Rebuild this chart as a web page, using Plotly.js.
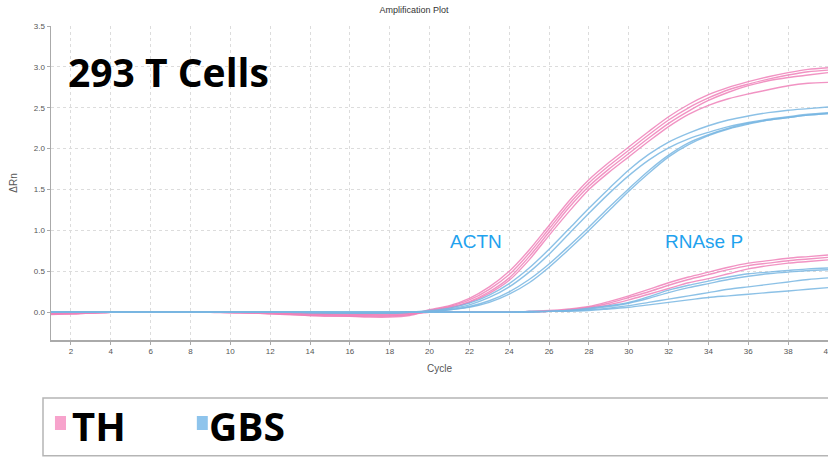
<!DOCTYPE html>
<html>
<head>
<meta charset="utf-8">
<script src="https://cdn.plot.ly/plotly-3.0.1.min.js"></script>
<style>html,body{margin:0;padding:0;background:#fff;}#chart{width:828px;height:457px;}</style>
</head>
<body>
<div id="chart"></div>
<script>
var cycles = [1,2,3,4,5,6,7,8,9,10,11,12,13,14,15,16,17,18,19,20,21,22,23,24,25,26,27,28,29,30,31,32,33,34,35,36,37,38,39,40];
var xTicks = [2,4,6,8,10,12,14,16,18,20,22,24,26,28,30,32,34,36,38,40];
var yTicks = [0,0.5,1,1.5,2,2.5,3,3.5];
var yTickLabels = ["0.0","0.5","1.0","1.5","2.0","2.5","3.0","3.5"];

// ACTN, TH (pink)
var actnTH1 = [-0.02,-0.02,-0.01,0,0,0,0,0,0,0,-0.01,-0.02,-0.03,-0.04,-0.05,-0.05,-0.05,-0.05,-0.03,0.03,0.08,0.17,0.31,0.50,0.76,1.06,1.36,1.62,1.83,2.02,2.21,2.39,2.54,2.66,2.75,2.82,2.88,2.93,2.97,2.99];
var actnTH2 = [-0.03,-0.02,-0.01,0,0,0,0,0,0,-0.01,-0.01,-0.02,-0.03,-0.04,-0.04,-0.05,-0.06,-0.06,-0.04,0.02,0.07,0.15,0.28,0.46,0.72,1.02,1.32,1.58,1.79,1.98,2.17,2.35,2.50,2.62,2.72,2.79,2.85,2.90,2.94,2.96];
var actnTH3 = [-0.02,-0.01,-0.01,0,0,0,0,0,0,0,0,-0.01,-0.02,-0.02,-0.03,-0.03,-0.03,-0.03,-0.02,0.02,0.06,0.13,0.25,0.42,0.68,0.98,1.28,1.54,1.75,1.94,2.13,2.31,2.46,2.59,2.69,2.77,2.83,2.87,2.90,2.93];
var actnTH4 = [-0.02,-0.02,-0.01,0,0,0,0,0,0,0,-0.01,-0.01,-0.02,-0.03,-0.03,-0.04,-0.04,-0.04,-0.03,0.01,0.05,0.12,0.23,0.39,0.64,0.94,1.23,1.50,1.71,1.90,2.09,2.27,2.42,2.53,2.61,2.67,2.72,2.77,2.80,2.81];

// ACTN, GBS (blue)
var actnGBS1 = [0,0,0,0,0,0,0,0,0,0,0,0,0,0,-0.01,-0.01,-0.01,-0.01,0,0.02,0.05,0.11,0.21,0.35,0.54,0.77,1.02,1.27,1.51,1.74,1.93,2.08,2.19,2.28,2.35,2.40,2.44,2.47,2.49,2.51];
var actnGBS2 = [0,0,0,0,0,0,0,0,0,0,0,0,0,-0.01,-0.01,-0.01,-0.01,-0.01,0,0.01,0.04,0.09,0.18,0.31,0.49,0.71,0.96,1.21,1.45,1.67,1.86,2.01,2.12,2.20,2.27,2.32,2.36,2.39,2.42,2.44];
var actnGBS3 = [0,0,0,0,0,0,0,0,0,0,0,0,0,0,0,-0.01,-0.01,-0.01,0,0.01,0.03,0.07,0.14,0.25,0.40,0.59,0.81,1.04,1.28,1.51,1.73,1.92,2.07,2.17,2.25,2.31,2.35,2.38,2.41,2.43];
var actnGBS4 = [0,0,0,0,0,0,0,0,0,0,0,0,0,0,0,0,0,0,0,0,0.03,0.06,0.12,0.22,0.36,0.55,0.77,1.00,1.24,1.48,1.70,1.90,2.05,2.16,2.24,2.30,2.35,2.38,2.41,2.43];

// RNAse P, TH (pink)
var rnpTH1 = [-0.01,-0.01,0,0,0,0,0,0,0,0,0,0,-0.01,-0.01,-0.02,-0.02,-0.02,-0.02,-0.01,0,0,0,0,0,0.01,0.02,0.04,0.07,0.13,0.20,0.28,0.36,0.43,0.49,0.55,0.60,0.63,0.66,0.68,0.70];
var rnpTH2 = [-0.01,0,0,0,0,0,0,0,0,0,0,0,-0.01,-0.01,-0.01,-0.02,-0.02,-0.01,-0.01,0,0,0,0,0,0.01,0.01,0.03,0.06,0.11,0.18,0.25,0.33,0.40,0.46,0.52,0.57,0.60,0.63,0.65,0.67];
var rnpTH3 = [0,0,0,0,0,0,0,0,0,0,0,0,0,-0.01,-0.01,-0.01,-0.01,-0.01,0,0,0,0,0,0,0,0.01,0.02,0.05,0.09,0.15,0.22,0.29,0.36,0.41,0.47,0.53,0.57,0.60,0.62,0.64];

// RNAse P, GBS (blue)
var rnpGBS1 = [0,0,0,0,0,0,0,0,0,0,0,0,0,0,0,0,0,0,0,0,0,0,0,0,0.01,0.01,0.02,0.05,0.08,0.12,0.19,0.27,0.33,0.38,0.43,0.47,0.49,0.51,0.53,0.54];
var rnpGBS2 = [0,0,0,0,0,0,0,0,0,0,0,0,0,0,0,0,0,0,0,0,0,0,0,0,0.01,0.01,0.02,0.04,0.07,0.11,0.17,0.24,0.30,0.35,0.40,0.44,0.47,0.49,0.51,0.52];
var rnpGBS3 = [0,0,0,0,0,0,0,0,0,0,0,0,0,0,0,0,0,0,0,0,0,0,0,0,0,0.01,0.02,0.03,0.05,0.08,0.12,0.16,0.20,0.24,0.28,0.31,0.34,0.37,0.40,0.42];
var rnpGBS4 = [0,0,0,0,0,0,0,0,0,0,0,0,0,0,0,0,0,0,0,0,0,0,0,0,0,0.01,0.01,0.02,0.04,0.06,0.09,0.12,0.15,0.18,0.20,0.22,0.24,0.26,0.28,0.30];

var groupNames = ["TH", "GBS"];
var targetNames = ["ACTN", "RNAse P"];

var pink = "rgba(238,128,184,0.85)";
var blue = "rgba(120,182,226,0.85)";

function line(y, color, name) {
  return {x: cycles, y: y, type: "scatter", mode: "lines", name: name,
    line: {color: color, width: 1.4, shape: "spline", smoothing: 0.8},
    showlegend: false, hoverinfo: "skip"};
}

var traces = [
  line(rnpTH3, pink, "TH RNAse P"), line(rnpTH2, pink, "TH RNAse P"), line(rnpTH1, pink, "TH RNAse P"),
  line(actnTH4, pink, "TH ACTN"), line(actnTH3, pink, "TH ACTN"),
  line(actnTH2, pink, "TH ACTN"), line(actnTH1, pink, "TH ACTN"),
  line(rnpGBS4, blue, "GBS RNAse P"), line(rnpGBS3, blue, "GBS RNAse P"),
  line(rnpGBS2, blue, "GBS RNAse P"), line(rnpGBS1, blue, "GBS RNAse P"),
  line(actnGBS4, blue, "GBS ACTN"), line(actnGBS3, blue, "GBS ACTN"),
  line(actnGBS2, blue, "GBS ACTN"), line(actnGBS1, blue, "GBS ACTN")
];

var tickFont = {family: "Liberation Sans, Arial, sans-serif", size: 8, color: "#555"};

var layout = {
  width: 828, height: 457,
  margin: {l: 51, r: 0, t: 26, b: 117, pad: 0},
  paper_bgcolor: "#fff", plot_bgcolor: "#fff",
  title: {text: "Amplification Plot", x: 0.5, xref: "container", xanchor: "center",
    y: 0.978, yref: "container", yanchor: "middle",
    font: {family: "Liberation Sans, Arial, sans-serif", size: 9, color: "#333"}},
  xaxis: {range: [1, 40], tickvals: xTicks, ticktext: xTicks.map(String),
    showgrid: true, gridcolor: "#dcdcdc", griddash: "dot", gridwidth: 1,
    zeroline: false, showline: true, linecolor: "#aaa", linewidth: 1.5,
    ticks: "outside", ticklen: 3, tickcolor: "#aaa", tickfont: tickFont,
    ticklabeloverflow: "allow",
    title: {text: "Cycle", standoff: 10, font: {family: "Liberation Sans, Arial, sans-serif", size: 10, color: "#555"}}},
  yaxis: {range: [-0.34, 3.5], tickvals: yTicks, ticktext: yTickLabels,
    showgrid: true, gridcolor: "#dcdcdc", griddash: "dot", gridwidth: 1,
    zeroline: false, showline: true, linecolor: "#aaa", linewidth: 1.5,
    ticks: "outside", ticklen: 3, tickcolor: "#aaa", tickfont: tickFont,
    title: {text: "ΔRn", standoff: 14, font: {family: "Liberation Sans, Arial, sans-serif", size: 10, color: "#555"}}},
  shapes: [
    {type: "rect", xref: "paper", yref: "paper", x0: -0.0103, x1: 1.02, y0: -0.369, y1: -0.1847,
      line: {color: "#b5b5b5", width: 1.5}, fillcolor: "rgba(0,0,0,0)", layer: "above"},
    {type: "rect", xref: "paper", yref: "paper", x0: 0.0051, x1: 0.0193, y0: -0.2866, y1: -0.242,
      line: {width: 0}, fillcolor: "#f7a3cc"},
    {type: "rect", xref: "paper", yref: "paper", x0: 0.1877, x1: 0.2018, y0: -0.2866, y1: -0.242,
      line: {width: 0}, fillcolor: "#8ec4ec"}
  ],
  annotations: [
    {text: "<b>293 T Cells</b>", xref: "paper", yref: "paper", x: (66-51)/778, y: (340-71)/314,
      xanchor: "left", yanchor: "middle", showarrow: false,
      font: {family: "Open Sans, Noto Sans, sans-serif", size: 39, color: "#000"}},
    {text: targetNames[0], xref: "x", yref: "y", x: 22.35, y: 0.87, xanchor: "center", yanchor: "middle",
      showarrow: false, font: {family: "Liberation Sans, Arial, sans-serif", size: 19, color: "#1fa2ee"}},
    {text: targetNames[1], xref: "x", yref: "y", x: 33.8, y: 0.87, xanchor: "center", yanchor: "middle",
      showarrow: false, font: {family: "Liberation Sans, Arial, sans-serif", size: 19, color: "#1fa2ee"}},
    {text: "<b>" + groupNames[0] + "</b>", xref: "paper", yref: "paper", x: (70-51)/778, y: (340-425)/314,
      xanchor: "left", yanchor: "middle", showarrow: false,
      font: {family: "Open Sans, Noto Sans, sans-serif", size: 40, color: "#000"}},
    {text: "<b>" + groupNames[1] + "</b>", xref: "paper", yref: "paper", x: (207-51)/778, y: (340-425)/314,
      xanchor: "left", yanchor: "middle", showarrow: false,
      font: {family: "Open Sans, Noto Sans, sans-serif", size: 39, color: "#000"}}
  ]
};

Plotly.newPlot("chart", traces, layout, {staticPlot: true, displayModeBar: false});
</script>
</body>
</html>
